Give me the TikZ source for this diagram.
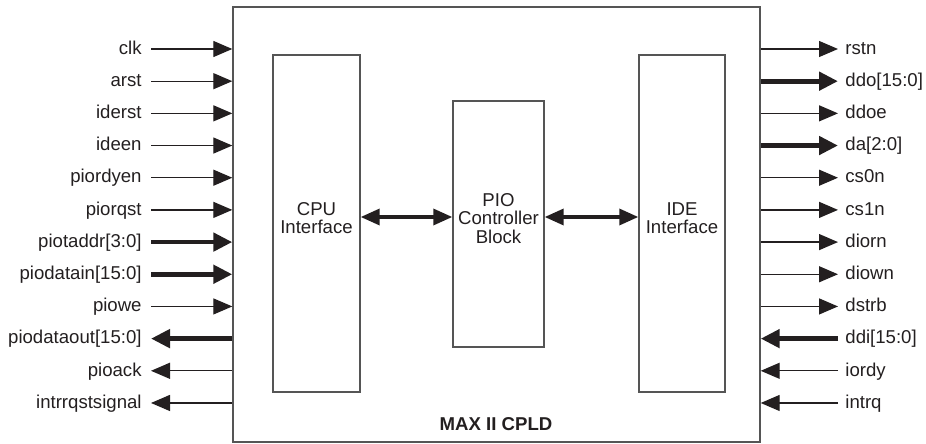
\documentclass[tikz,border=0pt]{standalone}
\usepackage{fontspec}
\setmainfont{Liberation Sans}
\usetikzlibrary{arrows.meta}
\definecolor{ink}{HTML}{231F20}
\definecolor{edge}{HTML}{555555}

\begin{document}
\begin{tikzpicture}[x=0.5pt,y=-0.5pt,
    font=\fontsize{9.3}{9.3}\selectfont, text=ink,
    >={Triangle[length=9.5pt,width=8pt]},
    blk/.style={draw=edge, line width=0.7pt, inner sep=0pt},
    wire/.style={draw=ink, line width=0.65pt},
    bus/.style={draw=ink, line width=2.4pt, >={Triangle[length=9.5pt,width=9pt]}},
    wirein/.style={wire,->}, wireout/.style={wire,<-},
    busin/.style={bus,->}, busout/.style={bus,<-},
    sig/.style={inner xsep=4.5pt, inner ysep=0pt, text height=0.72em, text depth=0.2em},
    link/.style={draw=ink, line width=1.7pt, <->}]
      \useasboundingbox (0,0) rectangle (926,444);
      % blocks
      \node[blk, minimum width=263.5pt, minimum height=217.5pt] (cpld) at (496.5,224.5) {};
      \node[blk, minimum width=43.5pt, minimum height=168.5pt] (cpu) at (316.5,223.5) {};
      \node[blk, minimum width=45.5pt, minimum height=123pt] (pio) at (498.5,224) {};
      \node[blk, minimum width=43pt, minimum height=168.5pt] (ide) at (682,223.5) {};
      \node[align=center] (cpuTxt) at (316.5,218) {CPU\\Interface};
      \node[align=center] (pioTxt) at (498.5,218.5) {PIO\\Controller\\Block};
      \node[align=center] (ideTxt) at (682,218) {IDE\\Interface};
      \node[font=\fontsize{9.3}{9.3}\selectfont\bfseries] (cpldTxt) at (496,424) {MAX II CPLD};
      % links between blocks
      \coordinate (lvl) at (0,217);
      \draw[link] (cpu.east |- lvl) -- (pio.west |- lvl);
      \draw[link] (pio.east |- lvl) -- (ide.west |- lvl);
      % left side signals
      \foreach \sig/\kind [count=\i from 0] in {clk/wirein, arst/wirein, iderst/wirein, ideen/wirein,
          piordyen/wirein, piorqst/wirein, piotaddr[3:0]/busin, piodatain[15:0]/busin, piowe/wirein,
          piodataout[15:0]/busout, pioack/wireout, intrrqstsignal/wireout}{
        \node[sig, anchor=east] (l\i) at (151,49+32.18*\i) {\sig};
        \draw[\kind] (l\i.east) -- (l\i.east -| cpld.west);
      }
      % right side signals
      \foreach \sig/\kind [count=\i from 0] in {rstn/wireout, ddo[15:0]/busout, ddoe/wireout, da[2:0]/busout,
          cs0n/wireout, cs1n/wireout, diorn/wireout, diown/wireout, dstrb/wireout,
          ddi[15:0]/busin, iordy/wirein, intrq/wirein}{
        \node[sig, anchor=west, inner xsep=3.5pt] (r\i) at (838,49+32.18*\i) {\sig};
        \draw[\kind] (r\i.west) -- (r\i.west -| cpld.east);
      }
    \end{tikzpicture}
\end{document}
